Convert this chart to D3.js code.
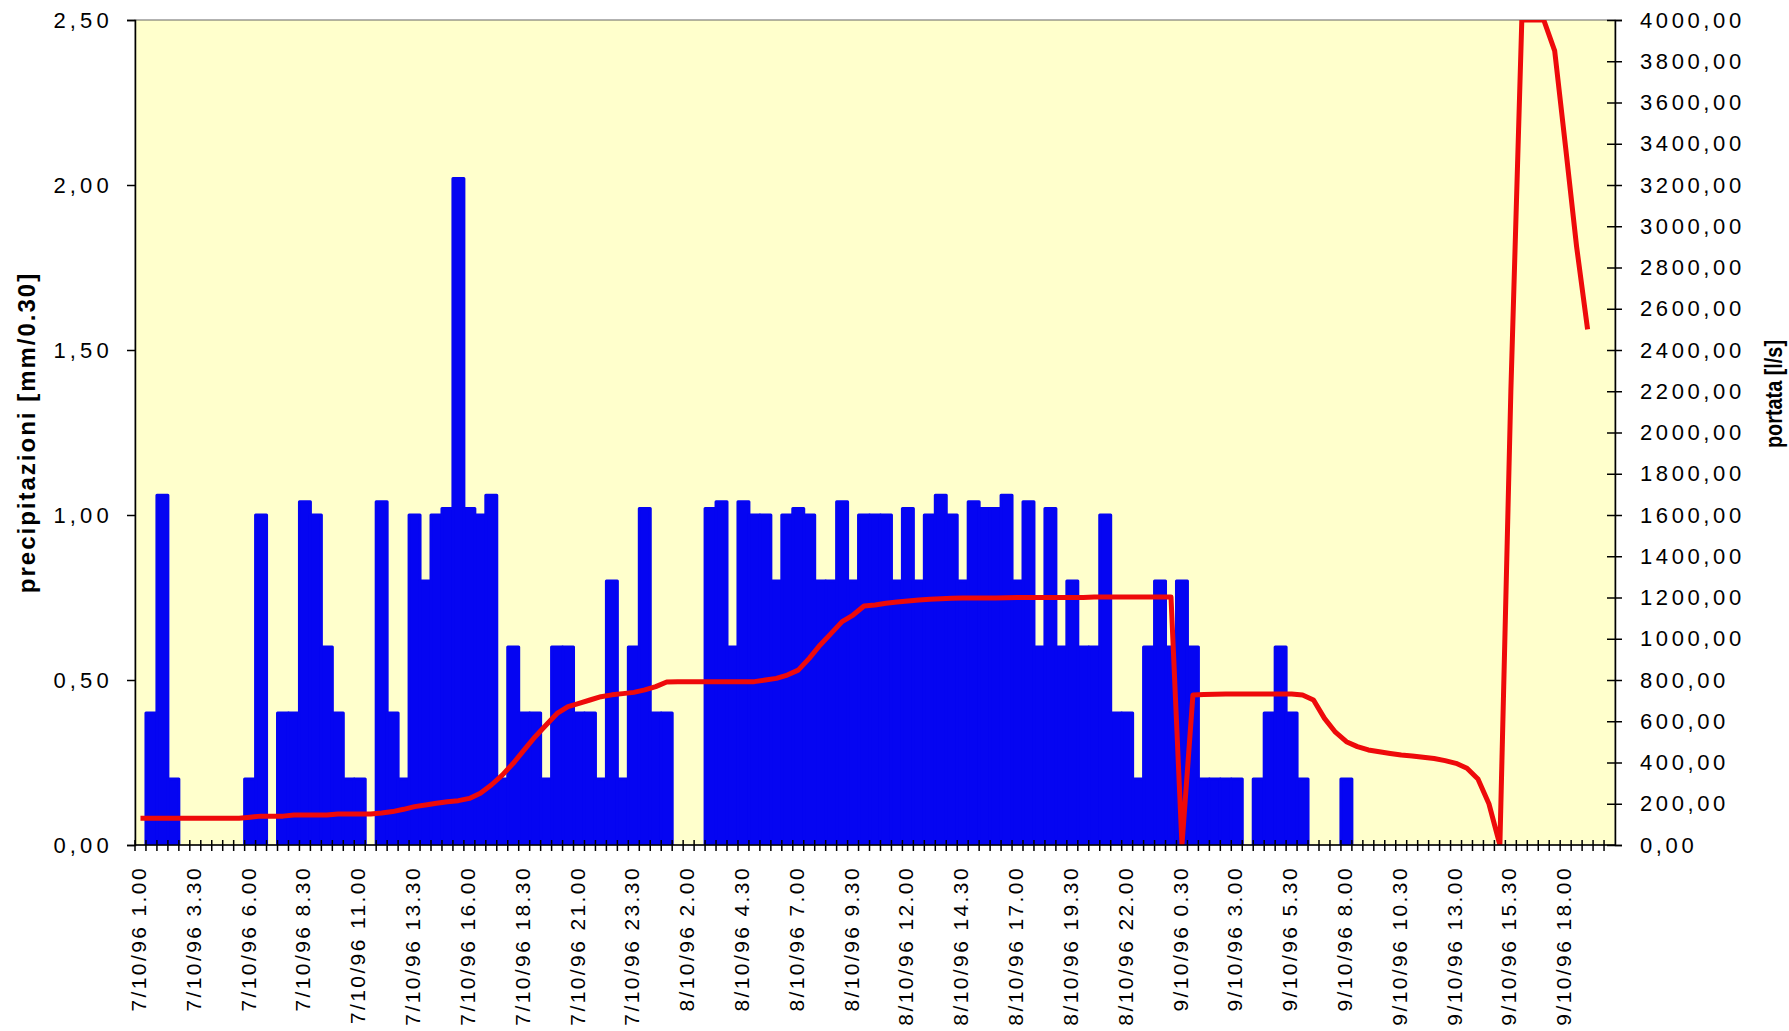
<!DOCTYPE html>
<html>
<head>
<meta charset="utf-8">
<script src="https://cdn.jsdelivr.net/npm/d3@7"></script>
<style>
  body { margin: 0; background: #ffffff; }
  svg text { font-family: "Liberation Sans", Arial, sans-serif; fill: #000; }
</style>
</head>
<body>
<svg id="chart" width="1789" height="1031"></svg>
<script>
// categories: every half hour from 7/10/96 1.00 to 9/10/96 20.00
const days = ['7/10/96', '8/10/96', '9/10/96'];
const halfHours = ['0.00','0.30','1.00','1.30','2.00','2.30','3.00','3.30','4.00','4.30','5.00','5.30',
  '6.00','6.30','7.00','7.30','8.00','8.30','9.00','9.30','10.00','10.30','11.00','11.30',
  '12.00','12.30','13.00','13.30','14.00','14.30','15.00','15.30','16.00','16.30','17.00','17.30',
  '18.00','18.30','19.00','19.30','20.00','20.30','21.00','21.30','22.00','22.30','23.00','23.30'];
const categories = [];
days.forEach(function(d) {
  halfHours.forEach(function(h) { categories.push(d + ' ' + h); });
});
const cats = categories.slice(2, 137); // 135 half hours shown

// precipitazioni [mm/0.30], one value per half hour
const precip = [
  0, 0.4, 1.06, 0.2, 0, 0, 0, 0, 0, 0,
  0.2, 1.0, 0, 0.4, 0.4, 1.04, 1.0, 0.6, 0.4, 0.2,
  0.2, 0, 1.04, 0.4, 0.2, 1.0, 0.8, 1.0, 1.02, 2.02,
  1.02, 1.0, 1.06, 0.2, 0.6, 0.4, 0.4, 0.2, 0.6, 0.6,
  0.4, 0.4, 0.2, 0.8, 0.2, 0.6, 1.02, 0.4, 0.4, 0,
  0, 0, 1.02, 1.04, 0.6, 1.04, 1.0, 1.0, 0.8, 1.0,
  1.02, 1.0, 0.8, 0.8, 1.04, 0.8, 1.0, 1.0, 1.0, 0.8,
  1.02, 0.8, 1.0, 1.06, 1.0, 0.8, 1.04, 1.02, 1.02, 1.06,
  0.8, 1.04, 0.6, 1.02, 0.6, 0.8, 0.6, 0.6, 1.0, 0.4,
  0.4, 0.2, 0.6, 0.8, 0.6, 0.8, 0.6, 0.2, 0.2, 0.2,
  0.2, 0, 0.2, 0.4, 0.6, 0.4, 0.2, 0, 0, 0,
  0.2, 0, 0, 0, 0, 0, 0, 0, 0, 0,
  0, 0, 0, 0, 0, 0, 0, 0, 0, 0,
  0, 0, 0, 0, 0
];

// portata [l/s]
const portata = [
  130, 130, 130, 130, 130, 130, 130, 130, 130, 130,
  135, 140, 140, 140, 145, 145, 145, 145, 150, 150,
  150, 150, 155, 162, 173, 186, 194, 202, 210, 215,
  226, 251, 291, 339, 396, 461, 525, 582, 638, 671,
  687, 703, 719, 728, 734, 740, 752, 768, 790, 792,
  792, 792, 792, 792, 792, 792, 792, 800, 808, 824,
  848, 905, 970, 1026, 1083, 1115, 1159, 1164, 1172, 1178,
  1183, 1188, 1191, 1194, 1196, 1198, 1198, 1198, 1198, 1199,
  1200, 1200, 1200, 1200, 1200, 1200, 1200, 1202, 1203, 1203,
  1203, 1203, 1203, 1203, 1203, 0, 727, 730, 731, 732,
  732, 732, 732, 732, 732, 732, 727, 703, 614, 547,
  501, 477, 461, 452, 444, 436, 432, 425, 419, 409,
  396, 372, 320, 200, 0, 2200, 4000, 4000, 4000, 3850,
  3380, 2900, 2500, null, null
];

const leftTicks = [0, 0.5, 1.0, 1.5, 2.0, 2.5];
const rightTicks = d3.range(0, 4001, 200);
const labelEvery = 5;

const svg = d3.select('#chart');
const plot = {left: 135, right: 1615, top: 20, bottom: 845};

const x = d3.scaleBand()
  .domain(cats)
  .range([plot.left, plot.right])
  .padding(0);
const y = d3.scaleLinear().domain([0, 2.5]).range([plot.bottom, plot.top]);
const y2 = d3.scaleLinear().domain([0, 4000]).range([plot.bottom, plot.top]);

const comma = d3.format('.2f');
function itNum(v) { return comma(v).replace('.', ','); }

svg.append('defs').append('clipPath')
  .attr('id', 'plotclip')
  .append('rect')
  .attr('x', plot.left).attr('y', plot.top)
  .attr('width', plot.right - plot.left)
  .attr('height', plot.bottom - plot.top);

//plot background
svg.append('rect')
  .attr('x', plot.left).attr('y', plot.top)
  .attr('width', plot.right - plot.left)
  .attr('height', plot.bottom - plot.top)
  .attr('fill', '#ffffcc')
  .attr('stroke', '#666666')
  .attr('stroke-width', 1);

//bars
svg.append('g')
  .attr('clip-path', 'url(#plotclip)')
  .selectAll('rect')
  .data(cats.map(function(c, i) { return {c: c, v: precip[i]}; }).filter(function(d) { return d.v > 0; }))
  .join('rect')
  .attr('x', function(d) { return x(d.c); })
  .attr('y', function(d) { return y(d.v); })
  .attr('width', x.bandwidth())
  .attr('height', function(d) { return y(0) - y(d.v); })
  .attr('fill', '#0505f2')
  .attr('stroke', '#0505f2')
  .attr('stroke-width', 3)
  .attr('stroke-linejoin', 'round');

//portata line
const line = d3.line()
  .defined(function(d) { return d.v != null; })
  .x(function(d) { return x(d.c) + x.bandwidth() / 2; })
  .y(function(d) { return y2(d.v); });

svg.append('path')
  .datum(cats.map(function(c, i) { return {c: c, v: portata[i]}; }))
  .attr('clip-path', 'url(#plotclip)')
  .attr('d', line)
  .attr('fill', 'none')
  .attr('stroke', '#ee0a0a')
  .attr('stroke-width', 5)
  .attr('stroke-linejoin', 'round');

//left axis
const leftAxis = svg.append('g')
  .attr('transform', 'translate(' + plot.left + ',0)')
  .call(d3.axisLeft(y).tickValues(leftTicks).tickFormat(itNum).tickSize(8).tickPadding(14));
leftAxis.select('.domain').attr('stroke', '#000').attr('stroke-width', 1.5);
leftAxis.selectAll('.tick line').attr('stroke-width', 1.5);
leftAxis.selectAll('.tick text')
  .attr('font-size', 22)
  .attr('letter-spacing', 4.2)
  .attr('fill', '#111');

//right axis
const rightAxis = svg.append('g')
  .attr('transform', 'translate(' + plot.right + ',0)')
  .call(d3.axisRight(y2).tickValues(rightTicks).tickFormat(itNum).tickSize(7).tickPadding(18));
rightAxis.select('.domain').attr('stroke', '#000').attr('stroke-width', 1.5);
rightAxis.selectAll('.tick line').attr('x1', -8).attr('stroke-width', 1.5);
rightAxis.selectAll('.tick text')
  .attr('font-size', 22)
  .attr('letter-spacing', 3.6)
  .attr('fill', '#111');

//category axis
const bottom = svg.append('g');
bottom.append('line')
  .attr('x1', plot.left).attr('x2', plot.right)
  .attr('y1', plot.bottom).attr('y2', plot.bottom)
  .attr('stroke', '#000').attr('stroke-width', 1.5);
bottom.selectAll('line.tick')
  .data(cats)
  .join('line')
  .attr('class', 'tick')
  .attr('x1', function(c) { return x(c); })
  .attr('x2', function(c) { return x(c); })
  .attr('y1', plot.bottom - 5)
  .attr('y2', plot.bottom + 6)
  .attr('stroke', '#000')
  .attr('stroke-width', 1.5);
bottom.selectAll('text')
  .data(cats.filter(function(c, i) { return i % labelEvery == 0; }))
  .join('text')
  .attr('transform', function(c) {
    return 'translate(' + (x(c) + x.bandwidth() / 2 - 2) + ',' + 866 + ') rotate(-90)';
  })
  .attr('dy', '0.36em')
  .attr('text-anchor', 'end')
  .attr('font-size', 21)
  .attr('letter-spacing', 2.4)
  .attr('fill', '#111')
  .text(function(c) { return c; });

//axis titles
svg.append('text')
  .attr('transform', 'translate(26,' + ((plot.top + plot.bottom) / 2) + ') rotate(-90)')
  .attr('dy', '0.36em')
  .attr('text-anchor', 'middle')
  .attr('font-weight', 'bold')
  .attr('font-size', 24)
  .attr('letter-spacing', 2)
  .text('precipitazioni [mm/0.30]');

svg.append('text')
  .attr('transform', 'translate(1773,394) rotate(-90)')
  .attr('dy', '0.36em')
  .attr('text-anchor', 'middle')
  .attr('font-weight', 'bold')
  .attr('font-size', 24)
  .attr('textLength', 108)
  .attr('lengthAdjust', 'spacingAndGlyphs')
  .text('portata [l/s]');
</script>
</body>
</html>
